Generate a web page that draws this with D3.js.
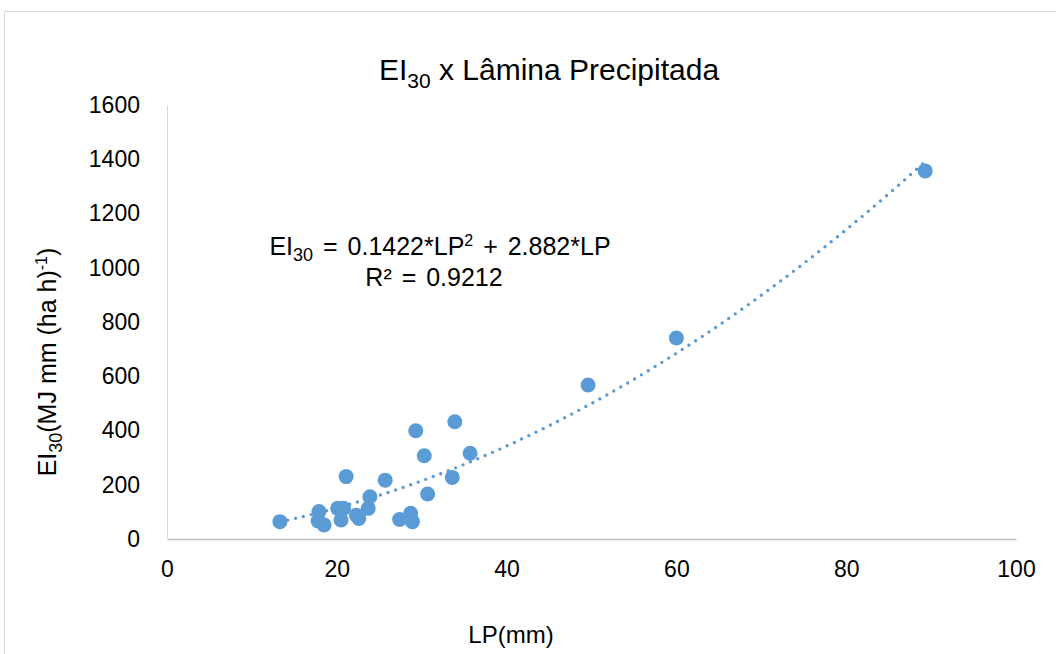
<!DOCTYPE html>
<html><head><meta charset="utf-8">
<script src="https://cdn.jsdelivr.net/npm/d3@7"></script>
<style>body{margin:0;background:#fff}svg{display:block}text{font-family:"Liberation Sans",Arial,sans-serif;fill:#000}</style>
</head><body>
<script>
const lp = [13.3,17.9,17.8,18.5,20.1,20.8,20.5,21.1,22.3,22.6,23.7,23.9,25.7,27.4,28.7,28.9,29.3,30.3,30.7,33.9,33.6,35.7,49.6,60.0,89.3];
const ei = [64,101,67,52,113,113,70,230,88,76,113,156,217,72,95,64,399,307,166,432,227,316,568,741,1357];
const xTicks = [0,20,40,60,80,100];
const yTicks = [0,200,400,600,800,1000,1200,1400,1600];
const coefA = 0.1422, coefB = 2.882;

const W=1056,H=654;
const FONT='"Liberation Sans",Arial,sans-serif';
const svg=d3.select("body").append("svg").attr("width",W).attr("height",H);
svg.append("rect").attr("x",4.5).attr("y",11.5).attr("width",W+10).attr("height",H+10)
  .attr("fill","#fff").attr("stroke","#d9d9d9").attr("stroke-width",1);

const x=d3.scaleLinear().domain([0,100]).range([167,1016]);
const y=d3.scaleLinear().domain([0,1600]).range([539,105]);

// axes
const xa=svg.append("g").attr("transform","translate(0,"+y(0)+")")
  .call(d3.axisBottom(x).tickValues(xTicks).tickFormat(d3.format("d")).tickSize(0).tickPadding(22));
xa.select(".domain").attr("stroke","#bfbfbf").attr("stroke-width",1.3);
xa.selectAll("text").attr("font-size",23).style("font-family",FONT);
const ya=svg.append("g").attr("transform","translate("+x(0)+",0)")
  .call(d3.axisLeft(y).tickValues(yTicks).tickFormat(d3.format("d")).tickSize(0).tickPadding(27));
ya.select(".domain").attr("stroke","#d9d9d9").attr("stroke-width",1);
ya.selectAll("text").attr("font-size",23).style("font-family",FONT);

// trendline
const xs=d3.range(d3.min(lp),d3.max(lp)+0.01,0.5);
svg.append("path").datum(xs)
  .attr("d",d3.line().x(d=>x(d)).y(d=>y(coefA*d*d+coefB*d)))
  .attr("fill","none").attr("stroke","#5b9bd5").attr("stroke-width",3.4)
  .attr("stroke-linecap","round").attr("stroke-dasharray","0,8");

// points
svg.append("g").selectAll("circle").data(lp.map((d,i)=>[d,ei[i]])).join("circle")
  .attr("cx",d=>x(d[0])).attr("cy",d=>y(d[1])).attr("r",7.5).attr("fill","#5b9bd5");

// title
const t=svg.append("text").attr("x",549).attr("y",80).attr("text-anchor","middle").attr("font-size",30);
t.append("tspan").text("EI");
t.append("tspan").text("30").attr("font-size",21).attr("dy",8);
t.append("tspan").text(" x Lâmina Precipitada").attr("dy",-8);

// equation
const e=svg.append("text").attr("x",440).attr("y",255).attr("text-anchor","middle").attr("font-size",25).attr("word-spacing",3);
e.append("tspan").text("EI");
e.append("tspan").text("30").attr("font-size",18).attr("dy",6);
e.append("tspan").text(" = 0.1422*LP").attr("dy",-6);
e.append("tspan").text("2").attr("font-size",16).attr("dy",-9);
e.append("tspan").text(" + 2.882*LP").attr("dy",9);
svg.append("text").attr("x",434).attr("y",286).attr("text-anchor","middle").attr("font-size",25).attr("word-spacing",3).text("R² = 0.9212");

// axis titles
svg.append("text").attr("x",511).attr("y",643).attr("text-anchor","middle").attr("font-size",24).text("LP(mm)");
const yl=svg.append("text").attr("transform","translate(56,362) rotate(-90)").attr("text-anchor","middle").attr("font-size",25);
yl.append("tspan").text("EI");
yl.append("tspan").text("30").attr("font-size",18).attr("dy",6);
yl.append("tspan").text("(MJ mm (ha h)").attr("dy",-6);
yl.append("tspan").text("-1").attr("font-size",16).attr("dy",-9);
yl.append("tspan").text(")").attr("dy",9);
</script>
</body></html>
